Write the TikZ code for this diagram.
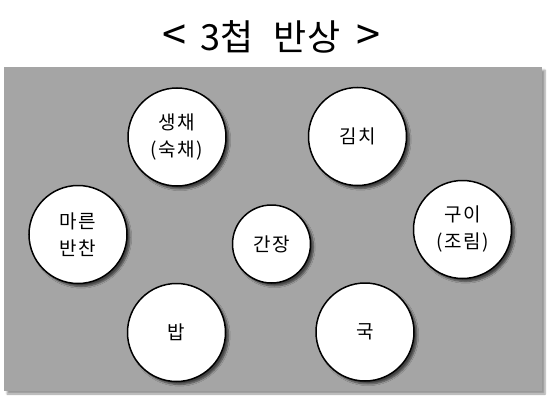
\documentclass[tikz,border=0pt]{standalone}
\usepackage{fontspec}
\newfontfamily\kr{Noto Sans CJK KR}
\usetikzlibrary{shadows.blur}
\definecolor{tablegray}{RGB}{165,165,165}
\begin{document}
\begin{tikzpicture}[x=1pt,y=-1pt,
  table/.style={rectangle, draw=none, fill=tablegray, inner sep=0pt,
    blur shadow={shadow xshift=3pt, shadow yshift=-3pt, shadow blur steps=6, shadow opacity=40}},
  dish/.style={circle, draw=black, line width=1.5pt, fill=white, minimum size=#1,
    inner sep=0pt, align=center,
    font=\kr\fontsize{19}{27}\selectfont\addfontfeatures{LetterSpace=8},
    blur shadow={shadow xshift=3pt, shadow yshift=-3pt, shadow blur steps=6, shadow opacity=60}},
  title/.style={font=\kr\fontsize{36}{40}\selectfont, inner sep=0pt}
]
\useasboundingbox (0,0) rectangle (554,404);
\node[table, minimum width=538pt, minimum height=324pt] (tbl) at (273,229) {};
\node[title] (ttl) at (271.5,37) {\scalebox{1.2}{<}\hspace{14pt}3첩\hspace{20pt}반상\hspace{16pt}\scalebox{1.2}{>}};
\node[dish=98pt] (saengchae) at (177,137) {생채\\(숙채)};
\node[dish=98pt] (kimchi) at (357.5,136.5) {김치};
\node[dish=98pt] (mareun) at (78,234.5) {마른\\반찬};
\node[dish=78pt] (ganjang) at (271.5,244) {간장};
\node[dish=98pt] (gui) at (462.5,229.5) {구이\\(조림)};
\node[dish=98pt] (bap) at (176.5,332.5) {밥};
\node[dish=98pt] (guk) at (365,332) {국};
\end{tikzpicture}
\end{document}
